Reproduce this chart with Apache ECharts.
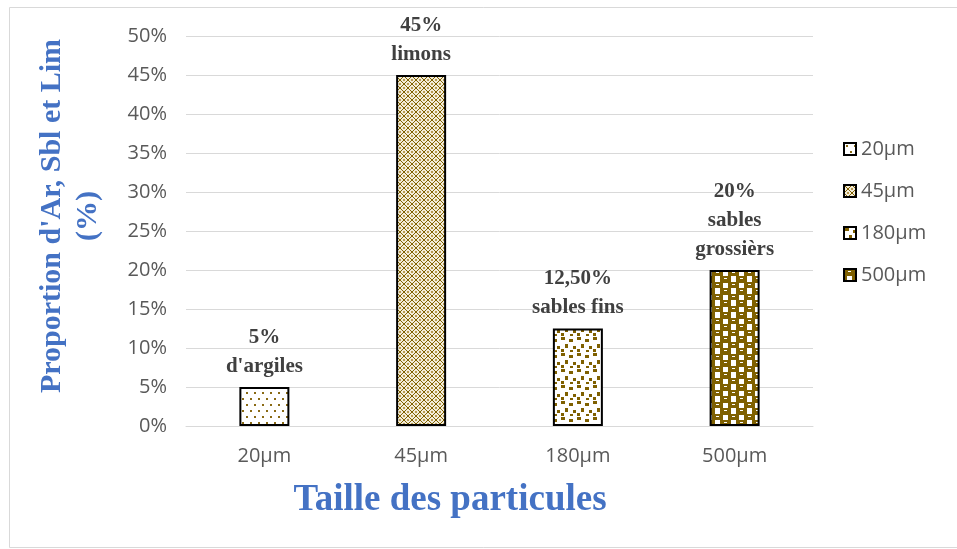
<!DOCTYPE html>
<html>
<head>
<meta charset="utf-8">
<script src="https://cdn.jsdelivr.net/npm/echarts@6/dist/echarts.min.js"></script>
<style>
  html, body { margin: 0; padding: 0; background: #fff; }
  #chart { width: 957px; height: 549px; }
</style>
</head>
<body>
<div id="chart"></div>
<script>
// categories and values
const categories = ["20µm", "45µm", "180µm", "500µm"];
const values = [5, 45, 12.5, 20];
const barLabels = ["5%\nd'argiles", "45%\nlimons", "12,50%\nsables fins", "20%\nsables\ngrossièrs"];
const yTicks = [0, 10, 20, 30, 40, 50];

const brown = "#7f6000";

// pattern tiles (one per series)
function makeTile(w, h, bg, draw) {
  const c = document.createElement("canvas");
  c.width = w;
  c.height = h;
  const ctx = c.getContext("2d");
  ctx.fillStyle = bg;
  ctx.fillRect(0, 0, w, h);
  ctx.fillStyle = brown;
  draw(ctx);
  return { image: c, repeat: "repeat" };
}

const patterns = [
  // small sparse dots
  makeTile(16, 12, "#ffffff", ctx => {
    ctx.fillStyle = "#8a6a14";
    ctx.fillRect(2, 2, 2, 2);
    ctx.fillRect(10, 2, 2, 2);
    ctx.fillRect(6, 8, 2, 2);
    ctx.fillRect(14, 8, 2, 2);
  }),
  // diamond lattice
  makeTile(8, 8, "#f3ecd8", ctx => {
    for (let i = 0; i < 8; i++) {
      ctx.fillRect(i, i, 1, 1);
      ctx.fillRect(7 - i, i, 1, 1);
    }
    ctx.fillStyle = "#b89a52";
    ctx.fillRect(3, 0, 2, 1);
    ctx.fillRect(0, 3, 1, 2);
    ctx.fillRect(7, 3, 1, 2);
    ctx.fillRect(3, 7, 2, 1);
  }),
  // scattered squares
  makeTile(16, 16, "#ffffff", ctx => {
    ctx.fillRect(1, 1, 4, 3);
    ctx.fillRect(9, 3, 4, 3);
    ctx.fillRect(5, 8, 3, 4);
    ctx.fillRect(13, 10, 3, 3);
    ctx.fillRect(1, 13, 3, 3);
    ctx.fillRect(10, 14, 3, 2);
  }),
  // offset brown blobs
  makeTile(16, 12, "#ffffff", ctx => {
    ctx.fillRect(0, 0, 11, 7);
    ctx.fillRect(8, 6, 8, 6);
    ctx.fillRect(0, 6, 3, 6);
    ctx.fillStyle = "#ffffff";
    ctx.fillRect(4, 2, 3, 1);
    ctx.fillRect(12, 8, 3, 1);
  })
];

const series = categories.map((name, i) => ({
  name: name,
  type: "bar",
  stack: "all",
  barWidth: 50,
  data: categories.map((_, j) => (j === i ? values[i] : "-")),
  itemStyle: {
    color: patterns[i],
    borderColor: "#000",
    borderWidth: 2
  },
  label: {
    show: true,
    position: "top",
    distance: 6,
    formatter: () => barLabels[i],
    fontFamily: "Liberation Serif",
    fontWeight: "bold",
    fontSize: 21,
    lineHeight: 29,
    color: "#404040"
  }
}));

const chart = echarts.init(document.getElementById("chart"));
chart.setOption({
  animation: false,
  backgroundColor: "#fff",
  grid: { left: 186, right: 144, top: 36, bottom: 123 },
  legend: {
    orient: "vertical",
    left: 838,
    top: 134,
    itemWidth: 12,
    itemHeight: 12,
    itemGap: 22,
    icon: "rect",
    textStyle: { fontFamily: "Open Sans", fontSize: 20, color: "#595959" },
    data: categories
  },
  xAxis: {
    type: "category",
    data: categories,
    axisLine: { lineStyle: { color: "#d9d9d9", width: 1 } },
    axisTick: { show: false },
    axisLabel: { margin: 20, fontFamily: "Open Sans", fontSize: 20, color: "#595959" }
  },
  yAxis: {
    type: "value",
    min: yTicks[0],
    max: yTicks[yTicks.length - 1],
    interval: 5,
    axisLine: { show: false },
    axisTick: { show: false },
    splitLine: { lineStyle: { color: "#d9d9d9" } },
    axisLabel: { margin: 19, fontFamily: "Open Sans", fontSize: 20, color: "#595959", formatter: "{value}%" }
  },
  graphic: [{
    type: "rect",
    shape: { x: 9.5, y: 7.5, width: 960, height: 540 },
    style: { fill: null, stroke: "#d9d9d9", lineWidth: 1 },
    silent: true
  }, {
    type: "text",
    x: 70,
    y: 216,
    rotation: Math.PI / 2,
    style: {
      text: "Proportion d'Ar, Sbl et Lim\n(%)",
      font: "bold 30px 'Liberation Serif'",
      lineHeight: 36,
      fill: "#4472c4",
      align: "center",
      verticalAlign: "middle"
    },
    silent: true
  }, {
    type: "text",
    x: 450,
    y: 500,
    style: {
      text: "Taille des particules",
      font: "bold 37px 'Liberation Serif'",
      fill: "#4472c4",
      align: "center",
      verticalAlign: "middle"
    },
    silent: true
  }],
  series: series
});
</script>
</body>
</html>
